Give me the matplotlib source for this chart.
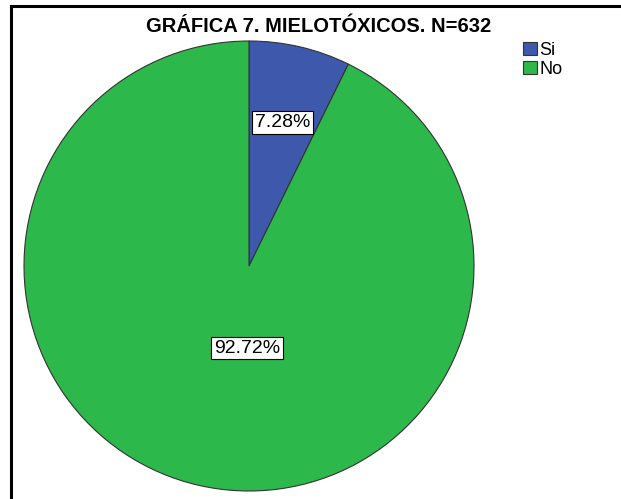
import matplotlib
matplotlib.use("Agg")
import matplotlib.pyplot as plt
from matplotlib.lines import Line2D
from matplotlib.patches import Patch

categories = ["Si", "No"]
values = [7.28, 92.72]
colors = ["#3e58ac", "#2db84b"]
title = "GRÁFICA 7. MIELOTÓXICOS. N=632"

plt.rcParams["font.family"] = ["Liberation Sans", "DejaVu Sans"]

W, H = 621, 499
fig = plt.figure(figsize=(W / 100, H / 100), dpi=100)

# pie centre and radius in pixels
cx, cy, r = 249, 266, 225
ax = fig.add_axes([(cx - r) / W, (H - cy - r) / H, 2 * r / W, 2 * r / H])
wedges, texts, autotexts = ax.pie(
    values, colors=colors, startangle=90, counterclock=False,
    autopct=lambda p: f"{p:.2f}%", pctdistance=0.655,
    wedgeprops=dict(edgecolor="#333333", linewidth=0.8),
    textprops=dict(fontsize=14),
)
ax.set_xlim(-1, 1)
ax.set_ylim(-1, 1)
ax.set_aspect("auto")
ax.axis("off")
autotexts[1].set_position((-0.01, -0.365))
for t in autotexts:
    t.set_bbox(dict(facecolor="white", edgecolor="black", linewidth=0.8, pad=2))

fig.text(319 / W, 1 - 27 / H, title, ha="center", va="center",
         fontsize=14.5, fontweight="bold")

handles = [Patch(facecolor=c, edgecolor="#333333", linewidth=0.8) for c in colors]
fig.legend(handles, categories, loc="upper left", bbox_to_anchor=(523 / W, 1 - 42 / H),
           frameon=False, fontsize=13, handlelength=0.75, handleheight=0.75,
           handletextpad=0.15, labelspacing=0.12, borderpad=0, borderaxespad=0)

# frame lines along the top and left
fig.add_artist(Line2D([11 / W, 1], [1 - 5.5 / H, 1 - 5.5 / H], color="black", linewidth=2.2,
                      transform=fig.transFigure))
fig.add_artist(Line2D([11 / W, 11 / W], [0, 1 - 5.5 / H], color="black", linewidth=2.2,
                      transform=fig.transFigure))

fig.savefig("out.png", dpi=100)
